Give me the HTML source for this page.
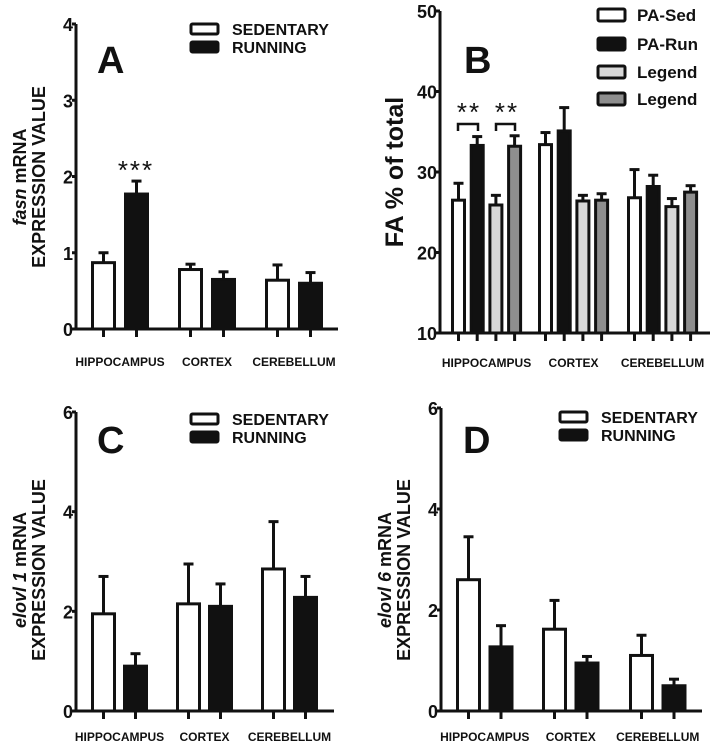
<!DOCTYPE html>
<html><head><meta charset="utf-8"><style>
body{margin:0;background:#fff;}
svg{display:block;font-family:"Liberation Sans",Arial,sans-serif;font-weight:bold;}
</style></head><body>
<svg id="fig" width="715" height="745" viewBox="0 0 715 745" xmlns="http://www.w3.org/2000/svg"></svg>
<script>
const categories = ["HIPPOCAMPUS","CORTEX","CEREBELLUM"];
const aSed = [0.87,0.78,0.64], aSedErr=[0.13,0.07,0.20];
const aRun = [1.77,0.65,0.60], aRunErr=[0.17,0.10,0.14];
const aTicks = [0,1,2,3,4];
const bSed=[26.5,33.4,26.8], bSedErr=[2.1,1.5,3.5];
const bRun=[33.3,35.1,28.2], bRunErr=[1.1,2.9,1.4];
const bLeg1=[25.9,26.4,25.7], bLeg1Err=[1.2,0.7,1.0];
const bLeg2=[33.2,26.5,27.5], bLeg2Err=[1.3,0.8,0.8];
const bTicks=[10,20,30,40,50];
const cSed=[1.95,2.15,2.85], cSedErr=[0.75,0.8,0.95];
const cRun=[0.9,2.1,2.28], cRunErr=[0.25,0.45,0.42];
const dSed=[2.6,1.62,1.1], dSedErr=[0.85,0.57,0.4];
const dRun=[1.27,0.95,0.5], dRunErr=[0.42,0.13,0.13];
const cdTicks=[0,2,4,6];

const svg=document.getElementById('fig');
const NS='http://www.w3.org/2000/svg';
function mk(tag,attrs,parent,txt){const e=document.createElementNS(NS,tag);for(const k in attrs)e.setAttribute(k,attrs[k]);if(txt!==undefined)e.textContent=txt;(parent||svg).appendChild(e);return e;}

function panel(p){
  const g=mk('g',{});
  
  
  const y=v=>p.y0-(v-p.vmin)/(p.vmax-p.vmin)*(p.y0-p.y1);
  p.series.forEach((s,si)=>{
    s.vals.forEach((v,ci)=>{
      const x=p.groupX[ci]+si*p.step;
      const top=y(v+s.err[ci]);
      const ln=mk('line',{x1:x+p.bw/2,x2:x+p.bw/2,y1:y(v),y2:top,stroke:'#111','stroke-width':3},g);
      
      
      const cap=mk('line',{x1:x+p.bw/2-5,x2:x+p.bw/2+5,y1:top,y2:top,stroke:'#111','stroke-width':3},g);
      
      
      const r=mk('rect',{x:x+1.5,y:y(v),width:p.bw-3,height:p.y0-y(v),fill:s.fill,stroke:'#111','stroke-width':3},g);
      
      
      const t=mk('line',{x1:x+p.bw/2,x2:x+p.bw/2,y1:p.y0,y2:p.y0+8,stroke:'#111','stroke-width':3},g);
      
      
    });
  });
  const ya=mk('line',{x1:p.ax,x2:p.ax,y1:p.y1,y2:p.y0+1.5,stroke:'#111','stroke-width':3},g);
  
  
  const xa=mk('line',{x1:p.ax,x2:p.xend,y1:p.y0,y2:p.y0,stroke:'#111','stroke-width':3},g);
  
  
  p.ticks.forEach(v=>{
    const tl=mk('line',{x1:p.ax-4,x2:p.ax,y1:y(v),y2:y(v),stroke:'#111','stroke-width':3},g);
    
    
    const tt=mk('text',{x:p.ax-3,y:y(v)+7,'text-anchor':'end','font-size':18,fill:'#111'},g,v);
    
    
  });
  categories.forEach((c,ci)=>{
    const cx=p.groupX[ci]+((p.series.length-1)*p.step+p.bw)/2;
    const t=mk('text',{x:cx,y:p.y0+p.lab,'text-anchor':'middle','font-size':12,fill:'#111'},g,c);
    
    
  });
  return g;
}
const whiteBlack=(a,ae,b,be)=>[{name:'sedentary',fill:'#fff',vals:a,err:ae},{name:'running',fill:'#111',vals:b,err:be}];
panel({id:'a',lab:37,vmin:0,vmax:4,y0:329,y1:24,ax:76,xend:338,groupX:[91,178,265],step:33,bw:25,ticks:aTicks,series:whiteBlack(aSed,aSedErr,aRun,aRunErr)});
panel({id:'b',lab:34,vmin:10,vmax:50,y0:333,y1:11,ax:440,xend:710,groupX:[451,538,627],step:18.7,bw:15,ticks:bTicks,series:[
 {name:'pa-sed',fill:'#fff',vals:bSed,err:bSedErr},{name:'pa-run',fill:'#111',vals:bRun,err:bRunErr},
 {name:'legend-light',fill:'#d8d8d8',vals:bLeg1,err:bLeg1Err},{name:'legend-dark',fill:'#8e8e8e',vals:bLeg2,err:bLeg2Err}]});
panel({id:'c',lab:30,vmin:0,vmax:6,y0:711,y1:412,ax:76,xend:334,groupX:[91,176,261],step:32,bw:25,ticks:cdTicks,series:whiteBlack(cSed,cSedErr,cRun,cRunErr)});
panel({id:'d',lab:30,vmin:0,vmax:6,y0:711,y1:408,ax:441,xend:702,groupX:[456,542,629],step:32.5,bw:25,ticks:cdTicks,series:whiteBlack(dSed,dSedErr,dRun,dRunErr)});

function txt(name,a,s){const t=mk('text',Object.assign({fill:'#111'},a),svg,s);return t;}
function legBox(name,x,y,w,h,fill){const r=mk('rect',{x:x,y:y,width:w,height:h,rx:1.5,fill:fill,stroke:'#111','stroke-width':3});}
[[191,24,232],[191,414,232],[560,412,601]].forEach(([bx,by,tx])=>{
  legBox('legend-swatch-sedentary',bx,by,27,10,'#fff');
  legBox('legend-swatch-running',bx,by+18,27,10,'#111');
  txt('legend-label-sedentary',{x:tx,y:by+11,'font-size':16},'SEDENTARY');
  txt('legend-label-running',{x:tx,y:by+29,'font-size':16},'RUNNING');
});
[['PA-Sed','#fff',9],['PA-Run','#111',38],['Legend','#d8d8d8',66],['Legend','#8e8e8e',93]].forEach(([l,f,y])=>{
  legBox('legend-swatch-'+l.toLowerCase(),598,y,27,12,f);
  txt('legend-label',{x:637,y:y+12,'font-size':17},l);
});
txt('panel-letter-a',{x:97,y:73,'font-size':38},'A');
txt('panel-letter-b',{x:464,y:73,'font-size':38},'B');
txt('panel-letter-c',{x:97,y:453,'font-size':38},'C');
txt('panel-letter-d',{x:463,y:453,'font-size':38},'D');
const ya=txt('y-axis-title-a',{transform:'translate(26,177) rotate(-90)','text-anchor':'middle','font-size':18});
mk('tspan',{'font-style':'italic'},ya,'fasn');mk('tspan',{},ya,' mRNA');
txt('y-axis-title-a-2',{transform:'translate(45,177) rotate(-90)','text-anchor':'middle','font-size':18},'EXPRESSION VALUE');
txt('y-axis-title-b',{transform:'translate(403,172) rotate(-90)','text-anchor':'middle','font-size':25},'FA % of total');
const yc=txt('y-axis-title-c',{transform:'translate(26,570) rotate(-90)','text-anchor':'middle','font-size':18});
mk('tspan',{'font-style':'italic'},yc,'elovl 1');mk('tspan',{},yc,' mRNA');
txt('y-axis-title-c-2',{transform:'translate(45,570) rotate(-90)','text-anchor':'middle','font-size':18},'EXPRESSION VALUE');
const yd=txt('y-axis-title-d',{transform:'translate(391,570) rotate(-90)','text-anchor':'middle','font-size':18});
mk('tspan',{'font-style':'italic'},yd,'elovl 6');mk('tspan',{},yd,' mRNA');
txt('y-axis-title-d-2',{transform:'translate(410,570) rotate(-90)','text-anchor':'middle','font-size':18},'EXPRESSION VALUE');
txt('significance-a',{x:136,y:179,'text-anchor':'middle','font-size':26,'font-weight':'normal','letter-spacing':'2'},'***');
txt('significance-b1',{x:469,y:121,'text-anchor':'middle','font-size':26,'font-weight':'normal','letter-spacing':'2'},'**');
txt('significance-b2',{x:507,y:121,'text-anchor':'middle','font-size':26,'font-weight':'normal','letter-spacing':'2'},'**');
[[458,478],[496,515]].forEach(([a,b])=>{const p=mk('path',{d:`M${a} 131 V124 H${b} V131`,fill:'none',stroke:'#111','stroke-width':2.5});});
</script>
</body></html>
